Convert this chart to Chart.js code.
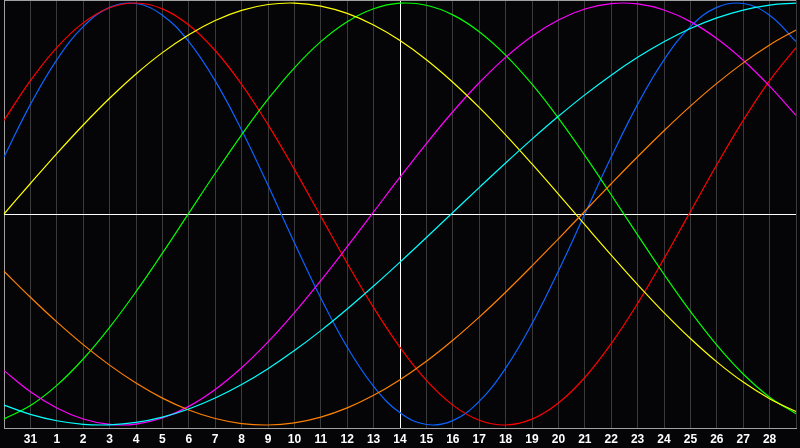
<!DOCTYPE html>
<html>
<head>
<meta charset="utf-8">
<script src="https://cdn.jsdelivr.net/npm/chart.js@4.4.0/dist/chart.umd.min.js"></script>
<style>
  html, body { margin: 0; padding: 0; background: #050508; }
  canvas { display: block; }
</style>
</head>
<body>
<canvas id="c" width="800" height="448"></canvas>
<script>
// Days shown on the x axis (first and last fall on the chart edges)
const days = ['30','31','1','2','3','4','5','6','7','8','9','10','11','12','13','14','15','16','17','18','19','20','21','22','23','24','25','26','27','28','29'];

const physical = [0.2698,0.5196,0.7308,0.8879,0.9791,0.9977,0.9423,0.8169,0.6311,0.3984,0.1362,-0.1362,-0.3984,-0.6311,-0.8170,-0.9423,-0.9977,-0.9791,-0.8879,-0.7308,-0.5197,-0.2697,0.0000,0.2698,0.5196,0.7308,0.8879,0.9791,0.9977,0.9423,0.8170];
const emotional = [0.4440,0.6322,0.7888,0.9058,0.9774,0.9999,0.9724,0.8960,0.7748,0.6147,0.4237,0.2116,-0.0112,-0.2334,-0.4440,-0.6322,-0.7888,-0.9058,-0.9774,-0.9999,-0.9724,-0.8960,-0.7748,-0.6147,-0.4238,-0.2116,0.0112,0.2334,0.4440,0.6322,0.7888];
const intellectual = [-0.9709,-0.9081,-0.8124,-0.6873,-0.5374,-0.3681,-0.1855,0.0038,0.1930,0.3752,0.5439,0.6928,0.8168,0.9112,0.9727,0.9990,0.9893,0.9437,0.8641,0.7532,0.6152,0.4548,0.2781,0.0913,-0.0989,-0.2854,-0.4616,-0.6212,-0.7582,-0.8680,-0.9463];
const intuitive = [-0.7424,-0.8426,-0.9197,-0.9718,-0.9974,-0.9957,-0.9669,-0.9118,-0.8317,-0.7290,-0.6064,-0.4672,-0.3153,-0.1548,0.0099,0.1744,0.3341,0.4846,0.6220,0.7424,0.8426,0.9197,0.9718,0.9974,0.9957,0.9669,0.9118,0.8317,0.7290,0.6064,0.4672];
const aesthetic = [0.0000,0.1446,0.2862,0.4217,0.5484,0.6636,0.7648,0.8499,0.9172,0.9651,0.9928,0.9997,0.9855,0.9506,0.8957,0.8220,0.7311,0.6247,0.5052,0.3751,0.2372,0.0942,-0.0508,-0.1946,-0.3344,-0.4672,-0.5901,-0.7007,-0.7965,-0.8755,-0.9362];
const awareness = [-0.2714,-0.3947,-0.5113,-0.6191,-0.7163,-0.8013,-0.8725,-0.9288,-0.9692,-0.9931,-0.9999,-0.9897,-0.9625,-0.9188,-0.8594,-0.7853,-0.6978,-0.5983,-0.4886,-0.3706,-0.2461,-0.1175,0.0131,0.1435,0.2714,0.3947,0.5113,0.6191,0.7163,0.8013,0.8725];
const spiritual = [-0.9058,-0.9496,-0.9800,-0.9967,-0.9993,-0.9880,-0.9627,-0.9240,-0.8723,-0.8083,-0.7330,-0.6474,-0.5527,-0.4503,-0.3415,-0.2280,-0.1112,0.0071,0.1253,0.2418,0.3549,0.4630,0.5646,0.6581,0.7426,0.8166,0.8792,0.9294,0.9665,0.9901,0.9997];

const todayLabel = '14';
const yLimit = 214 / 211;

const bgPlugin = {
  id: 'bg',
  beforeDraw(chart) {
    const c = chart.ctx;
    c.save();
    c.fillStyle = '#050508';
    c.fillRect(0, 0, chart.width, chart.height);
    c.restore();
  }
};

function ds(label, data, color) {
  return { label, data, borderColor: color, borderWidth: 1.2, pointRadius: 0, fill: false, tension: 0.4 };
}

new Chart(document.getElementById('c'), {
  type: 'line',
  data: {
    labels: days,
    datasets: [
      ds('Spiritual', spiritual, '#00ffff'),
      ds('Awareness', awareness, '#ff8000'),
      ds('Aesthetic', aesthetic, '#ffff00'),
      ds('Intuitive', intuitive, '#ff00ff'),
      ds('Intellectual', intellectual, '#00ff00'),
      ds('Emotional', emotional, '#ff0000'),
      ds('Physical', physical, '#0a64ff')
    ]
  },
  options: {
    responsive: false,
    animation: false,
    events: [],
    layout: { padding: 0 },
    plugins: { legend: { display: false }, tooltip: { enabled: false } },
    scales: {
      x: {
        offset: false,
        border: { display: true, color: '#a0a0a0', width: 1 },
        grid: {
          drawTicks: false,
          color: (ctx) => {
            if (ctx.index === 0) return '#a0a0a0';
            if (days[ctx.index] === todayLabel) return '#ffffff';
            return '#3a3a3a';
          }
        },
        ticks: {
          autoSkip: false,
          maxRotation: 0,
          padding: 4,
          color: '#ffffff',
          font: { family: 'Liberation Sans', weight: 'bold', size: 12 },
          callback: (v, i) => (i === 0 || i === days.length - 1) ? '' : days[i]
        },
        afterFit: (scale) => { scale.height = 20; }
      },
      y: {
        min: -yLimit,
        max: yLimit,
        border: { display: false },
        afterBuildTicks: (scale) => { scale.ticks = [{ value: -yLimit }, { value: 0 }, { value: yLimit }]; },
        grid: {
          drawTicks: false,
          color: (ctx) => {
            const v = ctx.tick.value;
            if (v === 0) return '#ffffff';
            if (v > 0) return '#a0a0a0';
            return 'rgba(0,0,0,0)';
          }
        },
        ticks: { display: false }
      }
    }
  },
  plugins: [bgPlugin]
});
</script>
</body>
</html>
